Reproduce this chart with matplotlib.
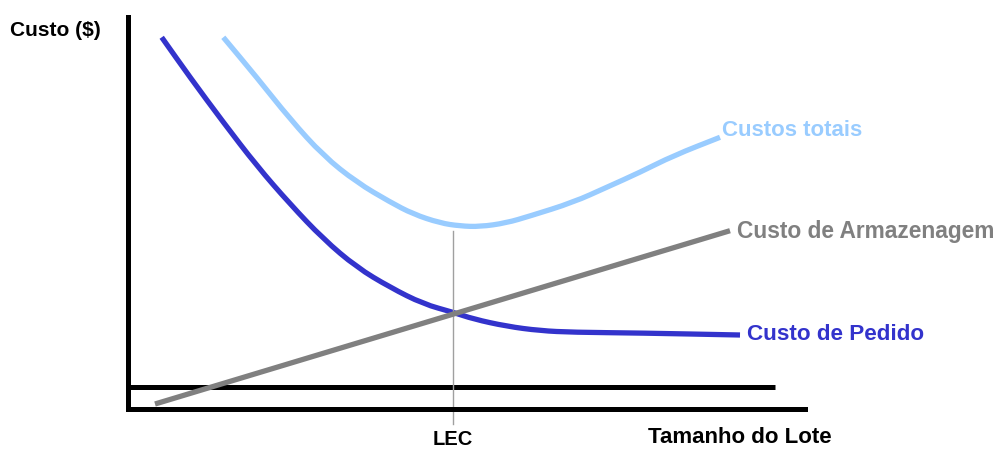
import matplotlib
matplotlib.use("Agg")
import matplotlib.pyplot as plt
from matplotlib.path import Path
from matplotlib.patches import PathPatch

plt.rcParams['font.family'] = ['Liberation Sans', 'DejaVu Sans']

# Data (arbitrary units: lot size, cost)
pedido_x = [33.7, 62, 95.3, 128.7, 162, 195.3, 228.7, 262, 295.3, 325.3, 345.3, 378.7, 412, 445.3, 512, 612]
pedido_y = [371.7, 331.7, 286.7, 243.3, 205, 170, 141.7, 121.7, 105, 96.7, 90, 82.7, 78.3, 76.7, 76, 74]

totais_x = [95.3, 128.7, 162, 195.3, 228.7, 262, 285, 312, 332, 352, 378, 402, 445.3, 478.7, 512, 545.3, 592]
totais_y = [371.7, 331.7, 290, 253.3, 226.7, 207, 195, 186, 183, 182.3, 186, 193, 206.7, 221.7, 236.7, 253.3, 271.7]

armaz_x = [27, 602]
armaz_y = [5, 178.3]

lec_x = 325
lec_top = 178
base_y = 22
base_x = [2, 647]


def smooth_path(xs, ys):
    """Quadratic Bezier path through midpoints, using data points as controls."""
    pts = list(zip(xs, ys))
    verts = [pts[0]]
    codes = [Path.MOVETO]
    mid0 = ((pts[0][0] + pts[1][0]) / 2, (pts[0][1] + pts[1][1]) / 2)
    verts.append(mid0)
    codes.append(Path.LINETO)
    for i in range(1, len(pts) - 1):
        mid = ((pts[i][0] + pts[i + 1][0]) / 2, (pts[i][1] + pts[i + 1][1]) / 2)
        verts += [pts[i], mid]
        codes += [Path.CURVE3, Path.CURVE3]
    verts.append(pts[-1])
    codes.append(Path.LINETO)
    return Path(verts, codes)


fig = plt.figure(figsize=(9.97, 4.52), dpi=100)
ax = fig.add_axes([128/997, 42/452, 677/997, 392/452])
ax.set_xlim(0, 677)
ax.set_ylim(0, 392)
for s in ['top', 'right']:
    ax.spines[s].set_visible(False)
for s in ['left', 'bottom']:
    ax.spines[s].set_linewidth(3.6)
    ax.spines[s].set_color('black')
ax.set_xticks([])
ax.set_yticks([])

ax.plot(base_x, [base_y, base_y], color='black', lw=3.6, solid_capstyle='butt')
ax.plot([lec_x, lec_x], [lec_top, -15], color='#a0a0a0', lw=1.0, clip_on=False)
ax.plot(armaz_x, armaz_y, color='#808080', lw=3.8, solid_capstyle='butt')
ax.add_patch(PathPatch(smooth_path(pedido_x, pedido_y), fill=False, edgecolor='#3333cc',
                       lw=3.8, capstyle='butt', joinstyle='round'))
ax.add_patch(PathPatch(smooth_path(totais_x, totais_y), fill=False, edgecolor='#99ccff',
                       lw=3.8, capstyle='butt', joinstyle='round'))

ax.text(594, 280, 'Custos totais', color='#99ccff', fontsize=16, fontweight='bold', va='center', ha='left')
ax.text(609, 178, 'Custo de Armazenagem', color='#808080', fontsize=16.4, fontweight='bold', va='center', ha='left', clip_on=False)
ax.text(619, 75, 'Custo de Pedido', color='#3333cc', fontsize=16.2, fontweight='bold', va='center', ha='left', clip_on=False)

fig.text(10/997, 1 - 30/452, 'Custo ($)', fontsize=15, fontweight='bold', va='center', ha='left')
fig.text(453/997, 1 - 440/452, 'LEC', fontsize=14.5, fontweight='bold', va='center', ha='center')
fig.text(648/997, 1 - 438/452, 'Tamanho do Lote', fontsize=16, fontweight='bold', va='center', ha='left')

fig.savefig('out.png', dpi=100, facecolor='white')
